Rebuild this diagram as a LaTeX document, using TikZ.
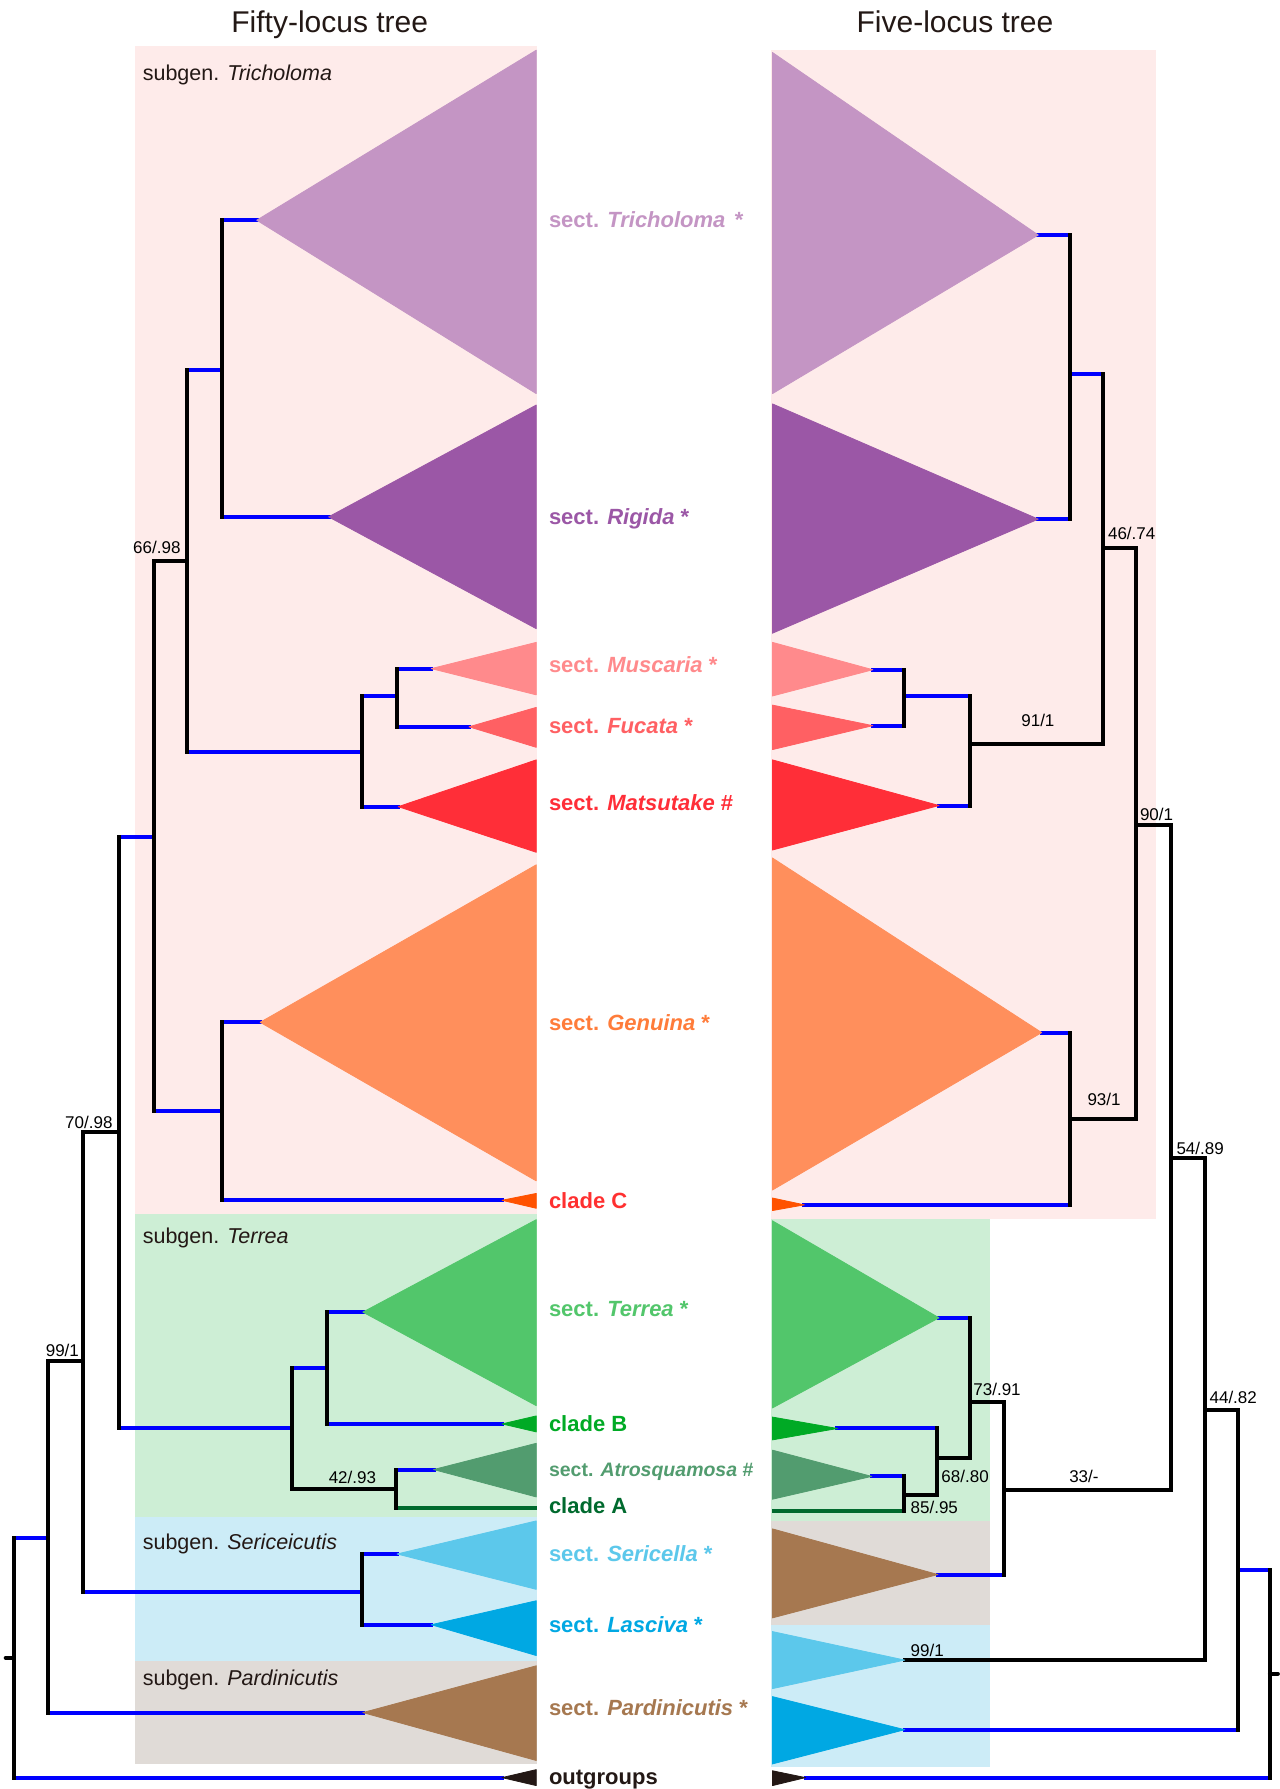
\documentclass[tikz,border=0pt]{standalone}
\usepackage{fontspec}
\setmainfont{Liberation Sans}
\definecolor{lblue}{HTML}{0000FF}
\definecolor{bgPink}{HTML}{FEEBEA}
\definecolor{bgGreen}{HTML}{CDEED5}
\definecolor{bgBlue}{HTML}{CCECF7}
\definecolor{bgBrown}{HTML}{E0DBD7}
\definecolor{cTri}{HTML}{C495C4}
\definecolor{cRig}{HTML}{9B57A6}
\definecolor{cMus}{HTML}{FF8A8C}
\definecolor{cFuc}{HTML}{FF6063}
\definecolor{cMat}{HTML}{FF2E38}
\definecolor{cGen}{HTML}{FF8F5C}
\definecolor{cGenT}{HTML}{FF7C3A}
\definecolor{cCC}{HTML}{FF5200}
\definecolor{cCCT}{HTML}{FF3030}
\definecolor{cTer}{HTML}{52C66B}
\definecolor{cCB}{HTML}{00AA25}
\definecolor{cAtr}{HTML}{529C6F}
\definecolor{cCA}{HTML}{006A2E}
\definecolor{cSer}{HTML}{5CC8EB}
\definecolor{cLas}{HTML}{00A8E3}
\definecolor{cPar}{HTML}{A67850}
\definecolor{cOut}{HTML}{231815}
\begin{document}
\begin{tikzpicture}[x=1.141pt,y=-1.141pt,
  blu/.style={line width=4pt,draw=lblue,line cap=rect},
  blk/.style={line width=4pt,draw=black,line cap=rect},
  cla/.style={line width=4pt,draw=cCA,line cap=rect},
  tri/.style={line join=round,draw=#1,fill=#1,line width=0.8pt},
  sup/.style={font=\fontsize{17}{17}\selectfont,anchor=base west,inner sep=0pt},
  tlab/.style={font=\fontsize{22}{22}\selectfont\bfseries,anchor=base west,inner sep=0pt},
  sglab/.style={font=\fontsize{21.5}{21.5}\selectfont,anchor=base west,inner sep=0pt,text=cOut},
  ttl/.style={font=\fontsize{30}{30}\selectfont,anchor=base,inner sep=0pt,text=cOut}]
\useasboundingbox (0,0) rectangle (1121,1568);
\fill[white] (0,0) rectangle (1121,1568);

% ---------- backgrounds ----------
\fill[bgPink]  (118,40)   rectangle (471,1064);
\fill[bgGreen] (118,1064) rectangle (471,1330);
\fill[bgBlue]  (118,1330) rectangle (471,1456);
\fill[bgBrown] (118,1456) rectangle (471,1546);
\fill[bgGreen] (676,1065) rectangle (868,1333);
\fill[bgPink]  (676,44)   rectangle (1013,1068);
\fill[bgBrown] (676,1333) rectangle (868,1424);
\fill[bgBlue]  (676,1424) rectangle (868,1549);

% ---------- titles ----------
\node[ttl] (t50) at (289,28.5) {Fifty-locus tree};
\node[ttl] (t5)  at (837,28.5) {Five-locus tree};

% ---------- left tree coordinates ----------
\coordinate (LTri) at (225,193);
\coordinate (LRig) at (288,453);
\coordinate (LMus) at (378,586);
\coordinate (LFuc) at (411,637);
\coordinate (LMat) at (349,707);
\coordinate (LGen) at (228,896);
\coordinate (LCC)  at (440,1052);
\coordinate (LTer) at (318,1150);
\coordinate (LCB)  at (440,1248);
\coordinate (LAtr) at (380,1288);
\coordinate (LCA)  at (469,1322);
\coordinate (LSer) at (348,1362);
\coordinate (LLas) at (378,1424);
\coordinate (LPar) at (318,1501);
\coordinate (LOut) at (440,1558);
\coordinate (n1)  at (195,324);
\coordinate (n2)  at (348,610);
\coordinate (n3)  at (317,659);
\coordinate (n4)  at (164,492);
\coordinate (n5)  at (195,974);
\coordinate (n6)  at (135,734);
\coordinate (n7)  at (287,1199);
\coordinate (n8)  at (347,1305);
\coordinate (n9)  at (256,1252);
\coordinate (n10) at (104,992);
\coordinate (n11) at (317,1395);
\coordinate (n12) at (73,1193);
\coordinate (n13) at (42,1348);
\coordinate (Lroot) at (12,1453);
\coordinate (Lstub) at (5,1453);

% left horizontal branches
\draw[blu] (n1 |- LTri) -- (LTri);
\draw[blu] (n1 |- LRig) -- (LRig);
\draw[blu] (n2 |- LMus) -- (LMus);
\draw[blu] (n2 |- LFuc) -- (LFuc);
\draw[blu] (n3 |- n2) -- (n2);
\draw[blu] (n3 |- LMat) -- (LMat);
\draw[blu] (n4 |- n1) -- (n1);
\draw[blu] (n4 |- n3) -- (n3);
\draw[blu] (n5 |- LGen) -- (LGen);
\draw[blu] (n5 |- LCC) -- (LCC);
\draw[blk] (n6 |- n4) -- (n4);
\draw[blu] (n6 |- n5) -- (n5);
\draw[blu] (n7 |- LTer) -- (LTer);
\draw[blu] (n7 |- LCB) -- (LCB);
\draw[blu] (n8 |- LAtr) -- (LAtr);
\draw[cla] (n8 |- LCA) -- (LCA);
\draw[blu] (n9 |- n7) -- (n7);
\draw[blk] (n9 |- n8) -- (n8);
\draw[blu] (n10 |- n6) -- (n6);
\draw[blu] (n10 |- n9) -- (n9);
\draw[blu] (n11 |- LSer) -- (LSer);
\draw[blu] (n11 |- LLas) -- (LLas);
\draw[blk] (n12 |- n10) -- (n10);
\draw[blu] (n12 |- n11) -- (n11);
\draw[blk] (n13 |- n12) -- (n12);
\draw[blu] (n13 |- LPar) -- (LPar);
\draw[blu] (Lroot |- n13) -- (n13);
\draw[blu] (Lroot |- LOut) -- (LOut);
% left vertical lines
\draw[blk] (n1 |- LTri) -- (n1 |- LRig);
\draw[blk] (n2 |- LMus) -- (n2 |- LFuc);
\draw[blk] (n3 |- n2) -- (n3 |- LMat);
\draw[blk] (n4 |- n1) -- (n4 |- n3);
\draw[blk] (n5 |- LGen) -- (n5 |- LCC);
\draw[blk] (n6 |- n4) -- (n6 |- n5);
\draw[blk] (n7 |- LTer) -- (n7 |- LCB);
\draw[blk] (n8 |- LAtr) -- (n8 |- LCA);
\draw[blk] (n9 |- n7) -- (n9 |- n8);
\draw[blk] (n10 |- n6) -- (n10 |- n9);
\draw[blk] (n11 |- LSer) -- (n11 |- LLas);
\draw[blk] (n12 |- n10) -- (n12 |- n11);
\draw[blk] (n13 |- n12) -- (n13 |- LPar);
\draw[blk] (Lroot |- n13) -- (Lroot |- LOut);
\draw[blk,line cap=round] (Lstub) -- (Lroot);

% left triangles
\filldraw[tri=cTri] (LTri) -- (470,44) -- (470,345) -- cycle;
\filldraw[tri=cRig] (LRig) -- (470,355) -- (470,551) -- cycle;
\filldraw[tri=cMus] (LMus) -- (470,563) -- (470,609) -- cycle;
\filldraw[tri=cFuc] (LFuc) -- (470,620) -- (470,655) -- cycle;
\filldraw[tri=cMat] (LMat) -- (470,666) -- (470,747) -- cycle;
\filldraw[tri=cGen] (LGen) -- (470,758) -- (470,1035) -- cycle;
\filldraw[tri=cCC]  (LCC)  -- (470,1046) -- (470,1059) -- cycle;
\filldraw[tri=cTer] (LTer) -- (470,1069) -- (470,1232) -- cycle;
\filldraw[tri=cCB]  (LCB)  -- (470,1241) -- (470,1255) -- cycle;
\filldraw[tri=cAtr] (LAtr) -- (470,1265) -- (470,1312) -- cycle;
\filldraw[tri=cSer] (LSer) -- (470,1333) -- (470,1393) -- cycle;
\filldraw[tri=cLas] (LLas) -- (470,1403) -- (470,1451) -- cycle;
\filldraw[tri=cPar] (LPar) -- (470,1460) -- (470,1543) -- cycle;
\filldraw[tri=cOut] (LOut) -- (470,1551) -- (470,1565) -- cycle;

% ---------- right tree coordinates ----------
\coordinate (RTri) at (910,206);
\coordinate (RRig) at (910,455);
\coordinate (RMus) at (765,587);
\coordinate (RFuc) at (765,636);
\coordinate (RMat) at (823,706);
\coordinate (RGen) at (913,905);
\coordinate (RCC)  at (705,1056);
\coordinate (RTer) at (823,1155);
\coordinate (RCB)  at (734,1252);
\coordinate (RAtr) at (764,1294);
\coordinate (RCA)  at (678,1324);
\coordinate (RPar) at (822,1380);
\coordinate (RSer) at (793,1455);
\coordinate (RLas) at (793,1516);
\coordinate (ROut) at (706,1558);
\coordinate (m1)  at (938,328);
\coordinate (m2)  at (792,610);
\coordinate (m3)  at (850,652);
\coordinate (m4)  at (967,480);
\coordinate (m5)  at (938,981);
\coordinate (m6)  at (996,723);
\coordinate (m7)  at (792,1310);
\coordinate (m8)  at (821,1278);
\coordinate (m9)  at (850,1229);
\coordinate (m10) at (880,1306);
\coordinate (m11) at (1026,1015);
\coordinate (m12) at (1056,1236);
\coordinate (m13) at (1085,1376);
\coordinate (Rroot) at (1113,1467);
\coordinate (Rstub) at (1120,1467);

% right horizontal branches
\draw[blu] (m1 |- RTri) -- (RTri);
\draw[blu] (m1 |- RRig) -- (RRig);
\draw[blu] (m2 |- RMus) -- (RMus);
\draw[blu] (m2 |- RFuc) -- (RFuc);
\draw[blu] (m3 |- m2) -- (m2);
\draw[blu] (m3 |- RMat) -- (RMat);
\draw[blu] (m4 |- m1) -- (m1);
\draw[blk] (m4 |- m3) -- (m3);
\draw[blu] (m5 |- RGen) -- (RGen);
\draw[blu] (m5 |- RCC) -- (RCC);
\draw[blk] (m6 |- m4) -- (m4);
\draw[blk] (m6 |- m5) -- (m5);
\draw[blu] (m7 |- RAtr) -- (RAtr);
\draw[cla] (m7 |- RCA) -- (RCA);
\draw[blu] (m8 |- RCB) -- (RCB);
\draw[blk] (m8 |- m7) -- (m7);
\draw[blu] (m9 |- RTer) -- (RTer);
\draw[blk] (m9 |- m8) -- (m8);
\draw[blk] (m10 |- m9) -- (m9);
\draw[blu] (m10 |- RPar) -- (RPar);
\draw[blk] (m11 |- m6) -- (m6);
\draw[blk] (m11 |- m10) -- (m10);
\draw[blk] (m12 |- m11) -- (m11);
\draw[blk] (m12 |- RSer) -- (RSer);
\draw[blk] (m13 |- m12) -- (m12);
\draw[blu] (m13 |- RLas) -- (RLas);
\draw[blu] (Rroot |- m13) -- (m13);
\draw[blu] (Rroot |- ROut) -- (ROut);
% right vertical lines
\draw[blk] (m1 |- RTri) -- (m1 |- RRig);
\draw[blk] (m2 |- RMus) -- (m2 |- RFuc);
\draw[blk] (m3 |- m2) -- (m3 |- RMat);
\draw[blk] (m4 |- m1) -- (m4 |- m3);
\draw[blk] (m5 |- RGen) -- (m5 |- RCC);
\draw[blk] (m6 |- m4) -- (m6 |- m5);
\draw[blk] (m7 |- RAtr) -- (m7 |- RCA);
\draw[blk] (m8 |- RCB) -- (m8 |- m7);
\draw[blk] (m9 |- RTer) -- (m9 |- m8);
\draw[blk] (m10 |- m9) -- (m10 |- RPar);
\draw[blk] (m11 |- m6) -- (m11 |- m10);
\draw[blk] (m12 |- m11) -- (m12 |- RSer);
\draw[blk] (m13 |- m12) -- (m13 |- RLas);
\draw[blk] (Rroot |- m13) -- (Rroot |- ROut);
\draw[blk,line cap=round] (Rroot) -- (Rstub);

% right triangles
\filldraw[tri=cTri] (RTri) -- (677,46) -- (677,345) -- cycle;
\filldraw[tri=cRig] (RRig) -- (677,354) -- (677,555) -- cycle;
\filldraw[tri=cMus] (RMus) -- (677,563) -- (677,610) -- cycle;
\filldraw[tri=cFuc] (RFuc) -- (677,618) -- (677,657) -- cycle;
\filldraw[tri=cMat] (RMat) -- (677,666) -- (677,745) -- cycle;
\filldraw[tri=cGen] (RGen) -- (677,752) -- (677,1043) -- cycle;
\filldraw[tri=cCC]  (RCC)  -- (677,1050) -- (677,1061) -- cycle;
\filldraw[tri=cTer] (RTer) -- (677,1070) -- (677,1234) -- cycle;
\filldraw[tri=cCB]  (RCB)  -- (677,1242) -- (677,1262) -- cycle;
\filldraw[tri=cAtr] (RAtr) -- (677,1271) -- (677,1314) -- cycle;
\filldraw[tri=cPar] (RPar) -- (677,1340) -- (677,1418) -- cycle;
\filldraw[tri=cSer] (RSer) -- (677,1430) -- (677,1480) -- cycle;
\filldraw[tri=cLas] (RLas) -- (677,1487) -- (677,1546) -- cycle;
\filldraw[tri=cOut] (ROut) -- (677,1552) -- (677,1565) -- cycle;

% ---------- subgenus labels ----------
\node[sglab] (sgT) at (125,70.7)   {subgen. \textit{Tricholoma}};
\node[sglab] (sgE) at (125,1089.7) {subgen. \textit{Terrea}};
\node[sglab] (sgS) at (125,1357.7) {subgen. \textit{Sericeicutis}};
\node[sglab] (sgP) at (125,1477.7) {subgen. \textit{Pardinicutis}};

% ---------- section labels ----------
\node[tlab,text=cTri] (lTri) at (481,199.8)  {sect. \textit{Tricholoma}\hspace{0.15em} *};
\node[tlab,text=cRig] (lRig) at (481,459.8)  {sect. \textit{Rigida} *};
\node[tlab,text=cMus] (lMus) at (481,589.8)  {sect. \textit{Muscaria} *};
\node[tlab,text=cFuc] (lFuc) at (481,642.8)  {sect. \textit{Fucata} *};
\node[tlab,text=cMat] (lMat) at (481,710.8)  {sect. \textit{Matsutake} \#};
\node[tlab,text=cGenT] (lGen) at (481,902.8) {sect. \textit{Genuina} *};
\node[tlab,text=cCCT] (lCC) at (481,1058.8)  {clade C};
\node[tlab,text=cTer] (lTer) at (481,1153.8) {sect. \textit{Terrea} *};
\node[tlab,text=cCB]  (lCB)  at (481,1254.8) {clade B};
\node[tlab,text=cAtr,font=\fontsize{19.5}{19.5}\selectfont\bfseries] (lAtr) at (481,1294.2) {sect. \textit{Atrosquamosa} \#};
\node[tlab,text=cCA]  (lCA)  at (481,1326.8) {clade A};
\node[tlab,text=cSer] (lSer) at (481,1368.8) {sect. \textit{Sericella} *};
\node[tlab,text=cLas] (lLas) at (481,1430.8) {sect. \textit{Lasciva} *};
\node[tlab,text=cPar] (lPar) at (481,1503.8) {sect. \textit{Pardinicutis} *};
\node[tlab,text=cOut] (lOut) at (481,1563.8) {outgroups};

% ---------- support values ----------
\node[sup] (s1)  at (116.6,485.5) {66/.98};
\node[sup] (s2)  at (57,989)      {70/.98};
\node[sup] (s3)  at (40,1188.5)   {99/1};
\node[sup] (s4)  at (288,1300.5)  {42/.93};
\node[sup] (s5)  at (971,472.5)   {46/.74};
\node[sup] (s6)  at (895,637)     {91/1};
\node[sup] (s7)  at (999,719.5)   {90/1};
\node[sup] (s8)  at (953,968.5)   {93/1};
\node[sup] (s9)  at (1031,1011.5) {54/.89};
\node[sup] (s10) at (853,1223.5)  {73/.91};
\node[sup] (s11) at (825,1299.5)  {68/.80};
\node[sup] (s12) at (798,1326.5)  {85/.95};
\node[sup] (s13) at (937,1299.5)  {33/-};
\node[sup] (s14) at (1060,1230.5) {44/.82};
\node[sup] (s15) at (798,1451.5)  {99/1};
\end{tikzpicture}
\end{document}
